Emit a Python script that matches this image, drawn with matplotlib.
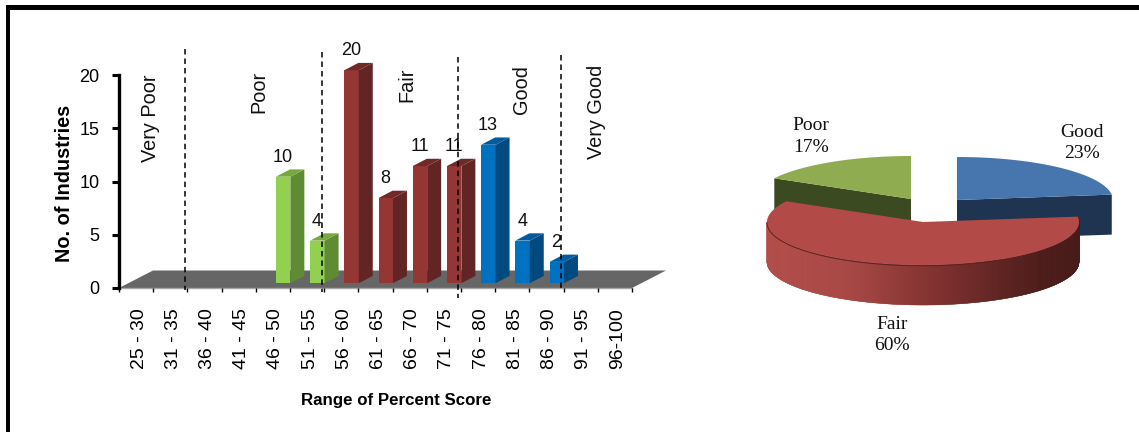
import numpy as np
import matplotlib
matplotlib.use("Agg")
import matplotlib.pyplot as plt
from matplotlib.patches import Polygon, Rectangle
from matplotlib.transforms import ScaledTranslation

# --- data ---
score_ranges = ["25 - 30", "31 - 35", "36 - 40", "41 - 45", "46 - 50", "51 - 55", "56 - 60",
                "61 - 65", "66 - 70", "71 - 75", "76 - 80", "81 - 85", "86 - 90", "91 - 95", "96-100"]
industries = [0, 0, 0, 0, 10, 4, 20, 8, 11, 11, 13, 4, 2, 0, 0]
bar_group = ["green"] * 6 + ["red"] * 4 + ["blue"] * 5
band_names = ["Very Poor", "Poor", "Fair", "Good", "Very Good"]
band_label_px = [(150, 118), (258.5, 92), (406.5, 85), (521, 90), (596, 112)]
band_limits = [1.93, 5.94, 9.91, 12.92]
pie_labels = ["Good", "Fair", "Poor"]
pie_shares = [23, 60, 17]

W, H, DPI = 1139, 432, 100
SANS, SERIF = "Liberation Sans", "Liberation Serif"

fig = plt.figure(figsize=(W / DPI, H / DPI), dpi=DPI, facecolor="white")

# Full-figure pixel layer for the frame, annotations and the pie
page = fig.add_axes([0, 0, 1, 1], zorder=3)
page.set_xlim(0, W)
page.set_ylim(H, 0)
page.axis("off")
page.patch.set_alpha(0)

# Column chart axes: 15 bins across x 119..632 px, 0..20 across y 288..75 px
L, R, B, T = 119, 632, 288, 75
ax = fig.add_axes([L / W, 1 - B / H, (R - L) / W, (B - T) / H], zorder=2)
ax.set_xlim(0, len(score_ranges))
ax.set_ylim(0, 20)
ax.patch.set_alpha(0)
for side in ("top", "right", "bottom"):
    ax.spines[side].set_visible(False)
ax.spines["left"].set_linewidth(2.4)

px_x = len(score_ranges) / (R - L)
px_y = 20 / (B - T)

# Axis furniture
ax.set_yticks([0, 5, 10, 15, 20])
ax.tick_params(axis="y", length=5, width=2.2, pad=9, labelsize=13, labelfontfamily=SANS)
ax.set_xticks(np.arange(len(score_ranges)) + 0.5)
ax.set_xticklabels(score_ranges, rotation=90, fontsize=14, family=SANS, va="top", ha="center")
ax.tick_params(axis="x", which="major", length=0, pad=14.5)
nudge = ScaledTranslation(3 / DPI, 0, fig.dpi_scale_trans)
for lab in ax.get_xticklabels():
    lab.set_transform(lab.get_transform() + nudge)
ax.set_xticks(np.arange(len(score_ranges) + 1), minor=True)
ax.tick_params(axis="x", which="minor", length=3.2, width=1.0, direction="out")

# Floor of the chart
floor_dx, floor_dy = 34 * px_x, 17.5 * px_y
ax.add_patch(Polygon([(0, 0), (floor_dx, floor_dy), (len(score_ranges) + floor_dx, floor_dy),
                      (len(score_ranges), 0)], closed=True, fc="#666666", ec="none",
                     clip_on=False, zorder=1))
ax.plot([0, len(score_ranges)], [0, 0], color="#a8a8a8", lw=1.0, zorder=1.2, clip_on=False)

# 3-D columns
bar_colors = {"green": ("#92D050", "#5F8C33", "#76A83E"),
              "red": ("#943634", "#632523", "#6F2A28"),
              "blue": ("#0070C0", "#004A80", "#005C9E")}
base = 0.45
half = 7.2 * px_x
dx, dy = 14 * px_x, 7.3 * px_y
for i, v in enumerate(industries):
    if v == 0:
        continue
    c = i + 0.8
    front, side, top = bar_colors[bar_group[i]]
    h = base + v
    ax.add_patch(Rectangle((c - half, base), 2 * half, v, fc=front, ec="none", zorder=3, clip_on=False))
    ax.add_patch(Polygon([(c + half, base), (c + half + dx, base + dy), (c + half + dx, h + dy), (c + half, h)],
                         closed=True, fc=side, ec="none", zorder=3, clip_on=False))
    ax.add_patch(Polygon([(c - half, h), (c + half, h), (c + half + dx, h + dy), (c - half + dx, h + dy)],
                         closed=True, fc=top, ec="none", zorder=3, clip_on=False))
    ax.annotate(str(v), (c, h), xytext=(-0.3, 14), textcoords="offset points", ha="center", va="center",
                fontsize=13, family=SANS, color="#111111", zorder=5, annotation_clip=False)

ax.set_xlabel("Range of Percent Score", fontsize=12.2, fontweight="bold", family=SANS)
ax.xaxis.set_label_coords((396.5 - L) / (R - L), (B - 400) / (B - T), transform=ax.transAxes)
ax.xaxis.label.set_va("center")
ax.set_ylabel("No. of Industries", fontsize=14.3, fontweight="bold", family=SANS)
ax.yaxis.set_label_coords((64 - L) / (R - L), (B - 183) / (B - T), transform=ax.transAxes)
ax.yaxis.label.set_va("center")

# Rating band separators
tops = [49, 52, 57, 55]
ends = [290, 292, 298, 291]
for x, t, e in zip(band_limits, tops, ends):
    xp = L + x / px_x
    page.plot([xp, xp], [t, e], color="black", lw=1.1, ls=(0, (3.6, 2.6)), zorder=6)

for name, (x, y) in zip(band_names, band_label_px):
    page.text(x, y, name, rotation=90, ha="center", va="center", fontsize=14.3, family=SANS, color="#111111")

# Outer frame, open towards the right and bottom edges
page.add_patch(Rectangle((6, 5), W - 6, 5, fc="black", ec="none"))
page.add_patch(Rectangle((6, 5), 4, H - 5, fc="black", ec="none"))

# --- exploded 3-D pie ---
RX, RY, DEPTH = 156, 43, 40
shares = np.array(pie_shares, dtype=float)
edges = 90 - np.concatenate([[0], np.cumsum(shares) / shares.sum() * 360])
apex = {"Good": (957, 200), "Fair": (923, 222), "Poor": (911, 199)}
top_col = {"Good": "#4776AE", "Fair": "#B24A48", "Poor": "#8FAD50"}
side_col = {"Good": "#1F3450", "Poor": "#3C4A22"}


def rim(cx, cy, a0, a1, n=120):
    t = np.radians(np.linspace(a0, a1, n))
    return np.column_stack([cx + RX * np.cos(t), cy - RY * np.sin(t)])


angles = dict(zip(pie_labels, zip(edges[:-1], edges[1:])))

# Rear slices: flat cut faces first, then their top surfaces
for name in ("Poor", "Good"):
    cx, cy = apex[name]
    a0, a1 = angles[name]
    pts = rim(cx, cy, a0, a1)
    outer = pts[0] if name == "Poor" else pts[-1]
    face = [(cx, cy), tuple(outer), (outer[0], outer[1] + DEPTH), (cx, cy + DEPTH)]
    page.add_patch(Polygon(face, closed=True, fc=side_col[name], ec="none", zorder=4))
    page.add_patch(Polygon(np.vstack([[cx, cy], pts]), closed=True, fc=top_col[name], ec="none", zorder=4.1))

# Fair slice: shaded outer wall, then top surface
cx, cy = apex["Fair"]
a0, a1 = angles["Fair"]
stops_x = [767, 850, 950, 1040, 1080]
stops = np.array([[0xB2, 0x4E, 0x4A], [0xA8, 0x48, 0x45], [0x7A, 0x2F, 0x2D], [0x4C, 0x1D, 0x1B], [0x48, 0x1B, 0x1A]]) / 255
for t0 in np.arange(180, 360 + a0 % 360, 0.5):
    seg = rim(cx, cy, t0, t0 + 0.8, 3)
    col = [np.interp(seg[:, 0].mean(), stops_x, stops[:, k]) for k in range(3)]
    quad = np.vstack([seg, (seg + [0, DEPTH])[::-1]])
    page.add_patch(Polygon(quad, closed=True, fc=col, ec=col, lw=0.3, zorder=5))
pts = rim(cx, cy, a0, a1, 240)
page.add_patch(Polygon(np.vstack([[cx, cy], pts]), closed=True, fc=top_col["Fair"], ec="none", zorder=5.2))
front_rim = rim(cx, cy, 180, 300)
page.plot(front_rim[:, 0], front_rim[:, 1] + 0.8, color="#5A2221", lw=0.7, zorder=5.3)

pie_text = {"Good": (1082, 143), "Fair": (892, 335), "Poor": (811, 136.5)}
for name, share in zip(pie_labels, pie_shares):
    x, y = pie_text[name]
    page.text(x, y, f"{name}\n{share}%", ha="center", va="center", fontsize=14, family=SERIF,
              color="#111111", linespacing=1.35)

fig.savefig("out.png", dpi=DPI, facecolor="white")
